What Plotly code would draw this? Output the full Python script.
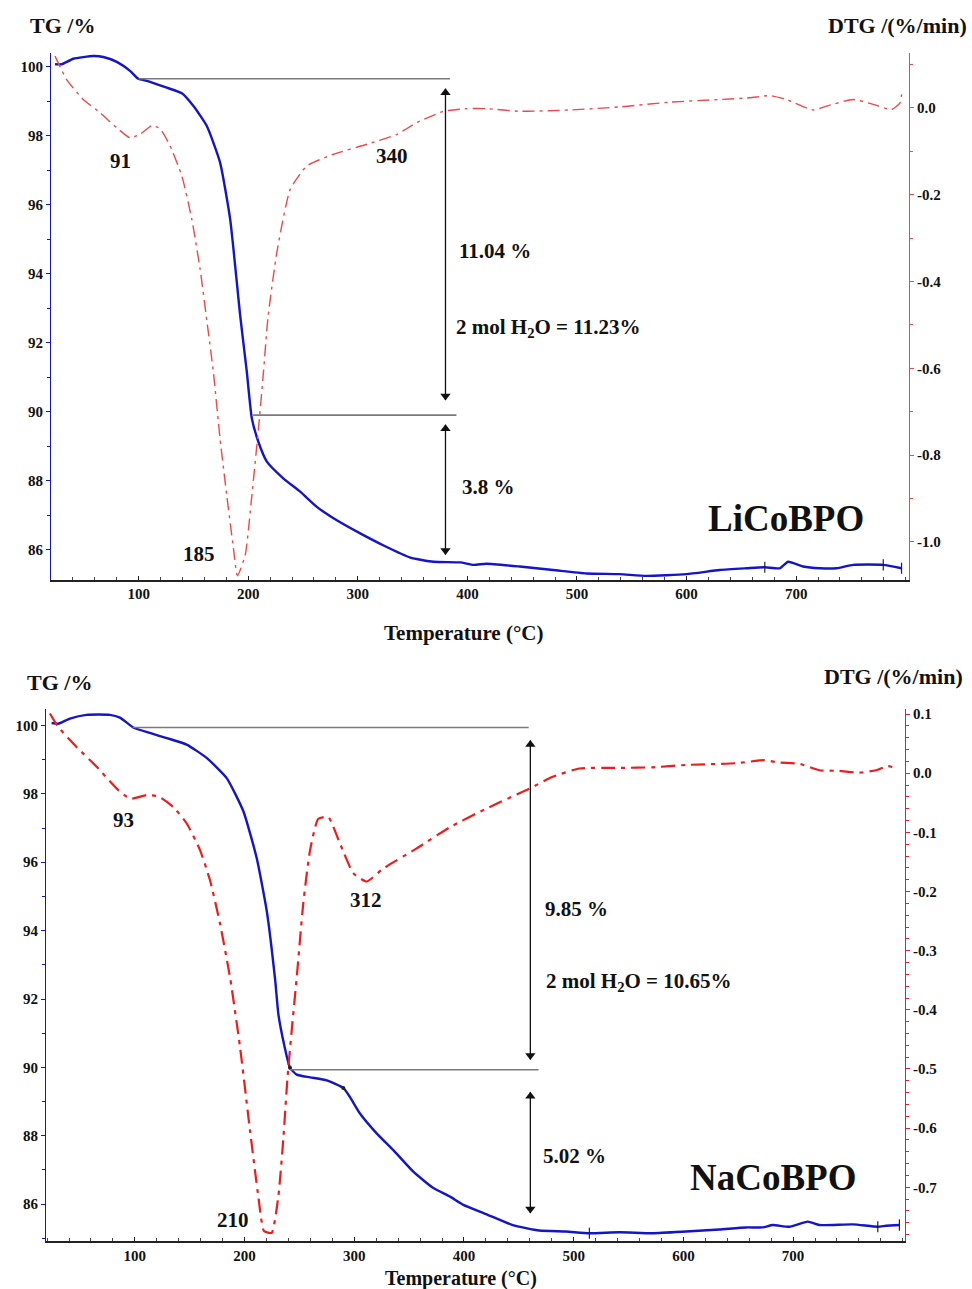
import plotly.graph_objects as go

# ---------------- data: LiCoBPO (top) ----------------
li_tg_T = [23.7, 29.8, 40.4, 58.6, 67.8, 80, 92.1, 99.7, 107.4, 125.7, 139.4, 150, 162.2, 174.3, 183.5,
           192.6, 198.7, 203.3, 209.3, 217, 232.2, 247.4, 262.6, 277.8, 302.2, 323.5, 347.9, 369.1, 393.5,
           405.7, 417.3, 447.7, 478.2, 508.6, 539, 563.4, 599.9, 630.3, 654.7, 671.4, 685.1, 692.7, 706.4,
           721.6, 736.9, 752.1, 779.5, 796.2]
li_tg = [100.07, 100.07, 100.23, 100.31, 100.28, 100.14, 99.88, 99.65, 99.59, 99.39, 99.23, 98.86, 98.28,
         97.22, 95.58, 92.80, 91.15, 89.80, 89.12, 88.55, 88.06, 87.68, 87.24, 86.91, 86.47, 86.12, 85.77,
         85.65, 85.63, 85.56, 85.59, 85.51, 85.41, 85.31, 85.29, 85.24, 85.29, 85.41, 85.46, 85.49, 85.46,
         85.65, 85.51, 85.46, 85.46, 85.56, 85.56, 85.46]

li_dtg_T = [23.7, 34.3, 49.5, 64.7, 80, 92.1, 101.3, 112, 119.5, 128.7, 139.4, 148.5, 156.1, 162.2, 168.2,
            174.3, 180.4, 186.5, 190.1, 197.2, 203.3, 209.3, 213.9, 217.9, 226.1, 238.3, 253.5, 277.8, 308.3,
            335.7, 354, 378.3, 399.6, 417.3, 447.7, 493.4, 539, 584.7, 630.3, 657.7, 676, 691.2, 715.6, 727.7,
            752.1, 770.4, 787.1, 794.7, 796.3]
li_dtg = [0.119, 0.065, 0.019, -0.011, -0.046, -0.069, -0.061, -0.041, -0.048, -0.088, -0.157, -0.257,
          -0.372, -0.490, -0.609, -0.763, -0.893, -1.015, -1.078, -1.031, -0.893, -0.740, -0.609, -0.485,
          -0.333, -0.188, -0.134, -0.107, -0.084, -0.061, -0.034, -0.008, -0.002, -0.002, -0.008, -0.005,
          0.002, 0.013, 0.019, 0.023, 0.028, 0.019, -0.005, 0.004, 0.019, 0.008, -0.004, 0.011, 0.031]

# small cursor marks on the TG curve
li_mark_T = [671.4, 779.5, 796.2]
li_mark_tg = [85.49, 85.56, 85.46]

# ---------------- data: NaCoBPO (bottom) ----------------
na_tg_T = [24.1, 30.1, 40.8, 56, 77.2, 86.4, 98.5, 113.7, 129, 147.2, 165.4, 183.7, 198.9, 211, 220.2,
           227.8, 230.8, 235.3, 241.4, 247.5, 259.7, 274.9, 290, 296.1, 305.2, 320.4, 335.6, 353.8, 372.1,
           387.3, 399.4, 420.1, 444.4, 468.7, 493, 514.3, 541.6, 572, 602.4, 632.8, 657.1, 672.3, 681.4,
           696.6, 713.4, 723.9, 754.4, 777.2, 784.7, 796.9]
na_tg = [100.07, 100.05, 100.20, 100.31, 100.31, 100.23, 99.94, 99.78, 99.63, 99.44, 99.05, 98.46, 97.49,
         96.13, 94.58, 92.58, 91.56, 90.78, 89.99, 89.79, 89.71, 89.62, 89.40, 89.13, 88.65, 88.07, 87.58,
         86.95, 86.47, 86.22, 85.98, 85.71, 85.39, 85.23, 85.20, 85.15, 85.18, 85.15, 85.20, 85.26, 85.32,
         85.32, 85.39, 85.34, 85.49, 85.39, 85.41, 85.34, 85.37, 85.39]

na_dtg_T = [22.6, 30.2, 47, 65.2, 83.5, 95.6, 110.8, 121.4, 135, 147.3, 159.4, 168.5, 177.6, 187, 195.8,
            204.9, 212.5, 217.7, 224.7, 230.8, 235.3, 239, 243, 247.5, 253.5, 259.7, 267.2, 276.3, 287,
            299.1, 311.3, 326.5, 356.9, 387.3, 420.1, 459.6, 480.9, 505.2, 541.6, 572, 602.4, 648, 673.9,
            687.5, 705.7, 724, 742.2, 760.4, 775.6, 786.3, 795.4]
na_dtg = [0.101, 0.078, 0.044, 0.011, -0.026, -0.043, -0.037, -0.039, -0.057, -0.085, -0.130, -0.181,
          -0.254, -0.348, -0.462, -0.603, -0.715, -0.774, -0.777, -0.715, -0.619, -0.518, -0.434, -0.346,
          -0.220, -0.130, -0.077, -0.074, -0.119, -0.169, -0.183, -0.161, -0.127, -0.091, -0.060, -0.026,
          -0.006, 0.008, 0.009, 0.010, 0.014, 0.017, 0.022, 0.018, 0.016, 0.005, 0.004, 0.001, 0.005,
          0.012, 0.008]

na_mark_T = [514.3, 777.2, 796.9]
na_mark_tg = [85.15, 85.34, 85.39]
na_dot_T = [241.4, 290]
na_dot_tg = [89.99, 89.40]

# mass-loss step levels (TG %) and double-arrow spans
li_steps = [99.65, 89.90]
li_arrow_T = 380
li_arrow_spans = [(99.36, 90.34), (89.62, 85.86)]
na_steps = [99.94, 89.93]
na_arrow_T = 460.5
na_arrow_spans = [(99.56, 90.23), (89.27, 85.74)]

# tick labels
x_ticks = [100, 200, 300, 400, 500, 600, 700]
tg_ticks = [86, 88, 90, 92, 94, 96, 98, 100]
li_dtg_ticks = [0.0, -0.2, -0.4, -0.6, -0.8, -1.0]
li_dtg_labels = ["0.0", "-0.2", "-0.4", "-0.6", "-0.8", "-1.0"]
na_dtg_ticks = [0.1, 0.0, -0.1, -0.2, -0.3, -0.4, -0.5, -0.6, -0.7]
na_dtg_labels = ["0.1", "0.0", "-0.1", "-0.2", "-0.3", "-0.4", "-0.5", "-0.6", "-0.7"]

# ---------------- styling ----------------
W, H = 972, 1289
FONT = "Liberation Serif, Times New Roman, serif"
BLUE = "#1414c8"
RED_TOP = "#f04848"
RED_BOT = "#ee1c1c"
TICKFONT = dict(family=FONT, size=15, color="#111111", weight="bold")


def px(x, y):
    return x / W, 1 - y / H


fig = go.Figure()
fig.add_trace(go.Scatter(x=li_tg_T, y=li_tg, mode="lines", line=dict(color=BLUE, width=2.4, shape="spline", smoothing=0.5),
                         xaxis="x", yaxis="y", showlegend=False))
fig.add_trace(go.Scatter(x=li_dtg_T, y=li_dtg, mode="lines",
                         line=dict(color=RED_TOP, width=1.4, dash="12px,5px,3px,5px", shape="spline", smoothing=0.5),
                         xaxis="x", yaxis="y2", showlegend=False))
fig.add_trace(go.Scatter(x=na_tg_T, y=na_tg, mode="lines", line=dict(color=BLUE, width=2.4, shape="spline", smoothing=0.5),
                         xaxis="x2", yaxis="y3", showlegend=False))
fig.add_trace(go.Scatter(x=na_dtg_T, y=na_dtg, mode="lines",
                         line=dict(color=RED_BOT, width=2.2, dash="14px,6px,4px,6px", shape="spline", smoothing=0.5),
                         xaxis="x2", yaxis="y4", showlegend=False))
# cursor marks
fig.add_trace(go.Scatter(x=li_mark_T, y=li_mark_tg, mode="markers", xaxis="x", yaxis="y", showlegend=False,
                         marker=dict(symbol="line-ns-open", size=8, color="#222", line=dict(color="#222", width=1.2))))
fig.add_trace(go.Scatter(x=na_mark_T, y=na_mark_tg, mode="markers", xaxis="x2", yaxis="y3", showlegend=False,
                         marker=dict(symbol="line-ns-open", size=8, color="#222", line=dict(color="#222", width=1.2))))
fig.add_trace(go.Scatter(x=na_dot_T, y=na_dot_tg, mode="markers", xaxis="x2", yaxis="y3", showlegend=False,
                         marker=dict(symbol="circle", size=4, color="#222")))

top_dom_x = [51 / W, 909 / W]
top_dom_y = [1 - 578 / H, 1 - 50 / H]
bot_dom_x = [46 / W, 905 / W]
bot_dom_y = [1 - 1241 / H, 1 - 708 / H]

xcommon = dict(tickvals=x_ticks, ticks="inside", ticklen=4, tickcolor="#222", showline=True, linecolor="#222",
               linewidth=1.5, showgrid=False, zeroline=False, tickfont=TICKFONT,
               minor=dict(ticks="inside", dtick=20, ticklen=3, tickcolor="#444"))
ycommon_tg = dict(tickvals=tg_ticks, ticks="outside", ticklen=4, tickcolor=BLUE, showline=True, linecolor=BLUE,
                  linewidth=1.2, showgrid=False, zeroline=False, tickfont=TICKFONT, side="left",
                  minor=dict(ticks="outside", dtick=1, ticklen=3, tickcolor=BLUE))

fig.update_layout(
    width=W, height=H, margin=dict(l=0, r=0, t=0, b=0),
    paper_bgcolor="white", plot_bgcolor="white",
    font=dict(family=FONT, color="#111"),
    xaxis=dict(domain=top_dom_x, range=[20, 803], anchor="y", **xcommon),
    yaxis=dict(domain=top_dom_y, range=[85.13, 100.40], anchor="x", **ycommon_tg),
    yaxis2=dict(range=[-1.087, 0.1265], overlaying="y", side="right", anchor="x",
                tickvals=li_dtg_ticks, ticktext=li_dtg_labels, ticks="outside", ticklen=4,
                tickcolor=RED_TOP, showline=True, linecolor=RED_TOP, linewidth=1.2, showgrid=False,
                zeroline=False, tickfont=TICKFONT,
                minor=dict(ticks="outside", dtick=0.1, ticklen=3, tickcolor=RED_TOP)),
    xaxis2=dict(domain=bot_dom_x, range=[19, 802], anchor="y3", **xcommon),
    yaxis3=dict(domain=bot_dom_y, range=[84.92, 100.47], anchor="x2", **ycommon_tg),
    yaxis4=dict(range=[-0.791, 0.108], overlaying="y3", side="right", anchor="x2",
                tickvals=na_dtg_ticks, ticktext=na_dtg_labels, ticks="outside", ticklen=4,
                tickcolor=RED_BOT, showline=True, linecolor=RED_BOT, linewidth=1.2, showgrid=False,
                zeroline=False, tickfont=TICKFONT,
                minor=dict(ticks="outside", dtick=0.02, ticklen=3, tickcolor=RED_BOT)),
)

GRAY = "#7a7a7a"
shapes = [
    dict(type="line", xref="x", yref="y", x0=100, x1=384, y0=li_steps[0], y1=li_steps[0], line=dict(color=GRAY, width=1.6)),
    dict(type="line", xref="x", yref="y", x0=204.5, x1=390, y0=li_steps[1], y1=li_steps[1], line=dict(color=GRAY, width=1.6)),
    dict(type="line", xref="x2", yref="y3", x0=98, x1=459, y0=na_steps[0], y1=na_steps[0], line=dict(color=GRAY, width=1.6)),
    dict(type="line", xref="x2", yref="y3", x0=241.5, x1=468, y0=na_steps[1], y1=na_steps[1], line=dict(color=GRAY, width=1.6)),
]
for (hi, lo) in li_arrow_spans:
    shapes.append(dict(type="line", xref="x", yref="y", x0=li_arrow_T, x1=li_arrow_T, y0=lo, y1=hi,
                       line=dict(color="#111", width=1.3)))
for (hi, lo) in na_arrow_spans:
    shapes.append(dict(type="line", xref="x2", yref="y3", x0=na_arrow_T, x1=na_arrow_T, y0=lo, y1=hi,
                       line=dict(color="#111", width=1.3)))
fig.update_layout(shapes=shapes)

for (T, spans, xa, ya, unit) in [(li_arrow_T, li_arrow_spans, "x", "y", 1 / 34.57),
                                 (na_arrow_T, na_arrow_spans, "x2", "y3", 1 / 34.29)]:
    ups = [hi - 4 * unit for (hi, lo) in spans]
    downs = [lo + 4 * unit for (hi, lo) in spans]
    fig.add_trace(go.Scatter(x=[T] * len(ups), y=ups, mode="markers", xaxis=xa, yaxis=ya, showlegend=False,
                             marker=dict(symbol="triangle-up", size=9, color="#111", line=dict(width=0))))
    fig.add_trace(go.Scatter(x=[T] * len(downs), y=downs, mode="markers", xaxis=xa, yaxis=ya, showlegend=False,
                             marker=dict(symbol="triangle-down", size=9, color="#111", line=dict(width=0))))

ann = []


def text(t, x, y, size=21, xanchor="center"):
    xx, yy = px(x, y)
    ann.append(dict(xref="paper", yref="paper", x=xx, y=yy, text=t, showarrow=False, xanchor=xanchor,
                    yanchor="middle", font=dict(family=FONT, size=size, color="#111")))


B = lambda s: "<b>" + s + "</b>"
# top panel texts
text(B("TG /%"), 28, 23, 22, "left")
text(B("DTG /(%/min)"), 969, 23, 22, "right")
text(B("91"), 120, 158)
text(B("340"), 392, 153)
text(B("185"), 199, 552)
text(B("11.04 %"), 457, 249, 21, "left")
text(B("2 mol H<sub>2</sub>O = 11.23%"), 454, 326, 21, "left")
text(B("3.8 %"), 460, 485, 21, "left")
text(B("LiCoBPO"), 786, 517, 37)
text(B("Temperature (°C)"), 463, 631, 21)
# bottom panel texts
text(B("TG /%"), 25, 681, 22, "left")
text(B("DTG /(%/min)"), 965, 675, 22, "right")
text(B("93"), 123, 819)
text(B("312"), 366, 899)
text(B("210"), 233, 1220)
text(B("9.85 %"), 543, 908, 21, "left")
text(B("2 mol H<sub>2</sub>O = 10.65%"), 544, 981, 21, "left")
text(B("5.02 %"), 541, 1156, 21, "left")
text(B("NaCoBPO"), 773, 1177, 37)
text(B("Temperature (°C)"), 461, 1278, 20)

fig.update_layout(annotations=ann)
fig.write_html("out.html")
